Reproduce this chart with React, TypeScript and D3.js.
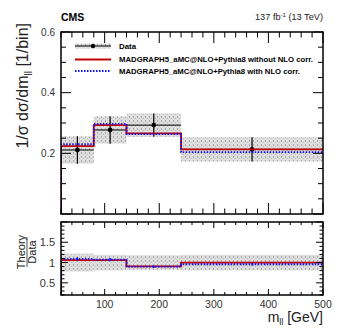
import React from "react";
import * as d3 from "d3";

// bin edges in GeV
const binEdges = [20, 80, 140, 240, 500];
// normalised cross section per bin
const dataValues = [0.211, 0.277, 0.293, 0.213];
const dataErrors = [0.045, 0.045, 0.0385, 0.04];
const mcNoCorr = [0.224, 0.293, 0.266, 0.213];
const mcWithCorr = [0.23, 0.297, 0.263, 0.204];
// ratio panel band (relative data uncertainty) and small MC stat error
const ratioBand = [0.22, 0.19, 0.18, 0.19];
const ratioMcErr = [0.04, 0.04, 0.03, 0.03];

const xTicks = [100, 200, 300, 400, 500];
const yTopTicks = [0.2, 0.4, 0.6];
const yRatioTicks = [0.5, 1, 1.5];

const legendItems = [
  "Data",
  "MADGRAPH5_aMC@NLO+Pythia8 without NLO corr.",
  "MADGRAPH5_aMC@NLO+Pythia8 with NLO corr.",
];

const width = 341;
const height = 330;
const frame = { left: 61, right: 323, top: 32, topBottom: 214, ratioTop: 222, ratioBottom: 295 };

const font = "'Liberation Sans', Arial, Helvetica, sans-serif";
const RED = "#c00000";
const BLUE = "#1010ff";

const App = () => {
  const x = d3.scaleLinear().domain([20, 500]).range([frame.left, frame.right]);
  const yTop = d3.scaleLinear().domain([0, 0.6]).range([frame.topBottom, frame.top]);
  const yRat = d3.scaleLinear().domain([0.2, 2]).range([frame.ratioBottom, frame.ratioTop]);

  const bins = dataValues.map((v, i) => ({
    lo: binEdges[i],
    hi: binEdges[i + 1],
    mid: (binEdges[i] + binEdges[i + 1]) / 2,
    v,
    err: dataErrors[i],
    a: mcNoCorr[i],
    b: mcWithCorr[i],
  }));

  const line = d3.line();
  const stepPath = (vals: number[], y: d3.ScaleLinear<number, number>, base: number) => {
    const pts: [number, number][] = [[x(binEdges[0]), y(base)]];
    vals.forEach((v, i) => {
      pts.push([x(binEdges[i]), y(v)]);
      pts.push([x(binEdges[i + 1]), y(v)]);
    });
    return line(pts) || "";
  };

  const ratioA = bins.map((d) => d.a / d.v);
  const ratioB = bins.map((d) => d.b / d.v);

  const minorX = d3.range(20, 501, 20);

  const axisFrame = (top: number, bottom: number, yScale: d3.ScaleLinear<number, number>,
    minorY: number[], majorY: number[], majX: number, minX: number, majY: number, minY: number) => (
    <g stroke="#000" strokeWidth={1}>
      {minorX.map((t) => {
        const big = t % 100 === 0;
        const len = big ? majX : minX;
        return (
          <g key={"xt" + t}>
            <line x1={x(t)} x2={x(t)} y1={bottom} y2={bottom - len} />
            <line x1={x(t)} x2={x(t)} y1={top} y2={top + len} />
          </g>
        );
      })}
      {minorY.map((t) => {
        const big = majorY.some((m) => Math.abs(m - t) < 1e-6);
        const len = big ? majY : minY;
        return (
          <g key={"yt" + t}>
            <line x1={frame.left} x2={frame.left + len} y1={yScale(t)} y2={yScale(t)} />
            <line x1={frame.right} x2={frame.right - len} y1={yScale(t)} y2={yScale(t)} />
          </g>
        );
      })}
      <rect x={frame.left} y={top} width={frame.right - frame.left} height={bottom - top}
        fill="none" strokeWidth={1.5} />
    </g>
  );

  // legend text widths to match the original
  const legendWidths = [undefined, 194, 181];

  return (
    <svg width={width} height={height} style={{ position: "absolute", left: 0, top: 0, background: "#fff" }}
      fontFamily={font}>
      <defs>
        <pattern id="band" width={4} height={4} patternUnits="userSpaceOnUse">
          <rect width={4} height={4} fill="#dedede" />
          <rect x={1} y={0} width={1} height={2} fill="#a8a8a8" />
          <rect x={3} y={2} width={1} height={1} fill="#bcbcbc" />
        </pattern>
        <clipPath id="clipTop">
          <rect x={frame.left} y={frame.top} width={frame.right - frame.left} height={frame.topBottom - frame.top} />
        </clipPath>
        <clipPath id="clipRat">
          <rect x={frame.left} y={frame.ratioTop} width={frame.right - frame.left} height={frame.ratioBottom - frame.ratioTop} />
        </clipPath>
      </defs>

      {/* upper panel */}
      <g clipPath="url(#clipTop)">
        {bins.map((d, i) => (
          <rect key={"band" + i} x={x(d.lo)} width={x(d.hi) - x(d.lo)}
            y={yTop(d.v + d.err)} height={yTop(d.v - d.err) - yTop(d.v + d.err)} fill="url(#band)" />
        ))}
        {bins.map((d, i) => (
          <g key={"data" + i} stroke="#000">
            <line x1={x(d.lo)} x2={x(d.hi)} y1={yTop(d.v)} y2={yTop(d.v)} strokeWidth={1} />
            <line x1={x(d.mid)} x2={x(d.mid)} y1={yTop(d.v + d.err)} y2={yTop(d.v - d.err)} strokeWidth={1.2} />
            <circle cx={x(d.mid)} cy={yTop(d.v)} r={2.4} fill="#000" stroke="none" />
          </g>
        ))}
        <path d={stepPath(mcNoCorr, yTop, 0)} fill="none" stroke={RED} strokeWidth={1.8} />
        <path d={stepPath(mcWithCorr, yTop, 0)} fill="none" stroke={BLUE} strokeWidth={1.8} strokeDasharray="1.5,1.5" />
      </g>
      {axisFrame(frame.top, frame.topBottom, yTop, d3.range(0, 0.6001, 0.05), [0, 0.2, 0.4, 0.6], 11, 5.5, 10, 5)}
      {yTopTicks.map((t) => (
        <text key={"yl" + t} x={55} y={yTop(t) + 3.5} textAnchor="end" fontSize={10} fill="#333">{t.toFixed(1)}</text>
      ))}

      {/* legend */}
      <g>
        <rect x={75} y={43.5} width={36} height={5} fill="url(#band)" />
        <line x1={75} x2={111} y1={46} y2={46} stroke="#000" strokeWidth={1} />
        <circle cx={93} cy={46} r={2.2} fill="#000" />
        <line x1={75} x2={111} y1={59.5} y2={59.5} stroke={RED} strokeWidth={1.8} />
        <line x1={75} x2={111} y1={71} y2={71} stroke={BLUE} strokeWidth={1.8} strokeDasharray="1.5,1.5" />
        {legendItems.map((t, i) => (
          <text key={t} x={119} y={[46, 59.5, 71][i] + 2.8} fontSize={7.9} fontWeight="bold" fill="#000"
            textLength={legendWidths[i]} lengthAdjust={legendWidths[i] ? "spacingAndGlyphs" : undefined}>{t}</text>
        ))}
      </g>

      <text x={61} y={20.5} fontSize={10.5} fontWeight="bold">CMS</text>
      <text x={323} y={20} fontSize={9.2} textAnchor="end" fill="#222">
        137 fb<tspan fontSize={6} dy={-3.5}>-1</tspan><tspan dy={3.5}> (13 TeV)</tspan>
      </text>

      <text transform="translate(28,23) rotate(-90)" textAnchor="end" fontSize={16} fill="#222">
        1/σ dσ/dm<tspan fontSize={10} dy={3.5}>ll</tspan><tspan dy={-3.5}> [1/bin]</tspan>
      </text>

      {/* ratio panel */}
      <g clipPath="url(#clipRat)">
        {bins.map((d, i) => (
          <rect key={"rband" + i} x={x(d.lo)} width={x(d.hi) - x(d.lo)}
            y={yRat(1 + ratioBand[i])} height={yRat(1 - ratioBand[i]) - yRat(1 + ratioBand[i])} fill="url(#band)" />
        ))}
        <path d={stepPath(ratioA, yRat, 0.2)} fill="none" stroke={RED} strokeWidth={1.8} />
        <path d={stepPath(ratioB, yRat, 0.2)} fill="none" stroke={BLUE} strokeWidth={1.8} strokeDasharray="1.5,1.5" />
        {bins.map((d, i) => (
          <line key={"rerr" + i} x1={x(d.mid)} x2={x(d.mid)} y1={yRat(ratioB[i] + ratioMcErr[i])}
            y2={yRat(ratioB[i] - ratioMcErr[i])} stroke={BLUE} strokeWidth={1.5} />
        ))}
      </g>
      {axisFrame(frame.ratioTop, frame.ratioBottom, yRat, d3.range(0.2, 2.0001, 0.1), [0.5, 1, 1.5, 2], 6, 3, 7, 3.5)}
      {yRatioTicks.map((t) => (
        <text key={"rl" + t} x={55} y={yRat(t) + 4} textAnchor="end" fontSize={11} fill="#333">{String(t)}</text>
      ))}
      {xTicks.map((t) => (
        <text key={"xl" + t} x={x(t)} y={307.5} textAnchor="middle" fontSize={10.5} fill="#333">{t}</text>
      ))}

      <g transform="translate(27,252) rotate(-90)" fill="#222" fontSize={11}>
        <text x={0} y={-2.5} textAnchor="middle">Theory</text>
        <line x1={-15} x2={15} y1={0} y2={0} stroke="#222" strokeWidth={0.8} />
        <text x={0} y={9} textAnchor="middle">Data</text>
      </g>

      <text x={323} y={322} textAnchor="end" fontSize={14} fill="#222">
        m<tspan fontSize={9} dy={3}>ll</tspan><tspan dy={-3}> [GeV]</tspan>
      </text>
    </svg>
  );
};

export default App;
